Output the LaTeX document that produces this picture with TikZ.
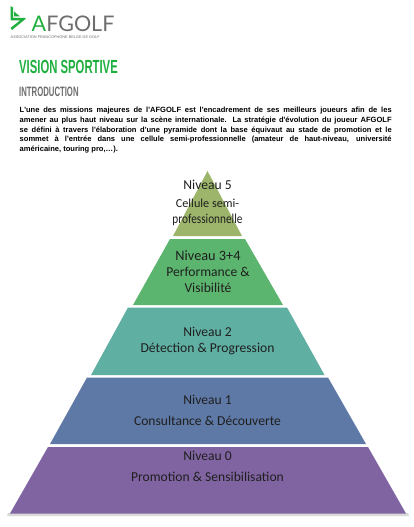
\documentclass[tikz,border=0pt]{standalone}
\usepackage{fontspec}
\setmainfont{Carlito}
\newfontfamily\lib{Liberation Sans}
\newfontfamily\lato{Lato}
\definecolor{lvfive}{HTML}{9DB56B}
\definecolor{lvfour}{HTML}{5CB56E}
\definecolor{lvtwo}{HTML}{60AFA3}
\definecolor{lvone}{HTML}{5F79A6}
\definecolor{lvzero}{HTML}{8064A2}
\definecolor{afgreen}{HTML}{1FAF3F}
\definecolor{afgrey}{HTML}{6E6E6E}
\tikzset{
  tier/.style={draw=none},
  lab/.style={inner sep=0pt,font=\fontsize{13.6pt}{16pt}\selectfont,text=black!88,align=center},
  head/.style={inner sep=0pt,anchor=west,font=\lib\bfseries},
}
\begin{document}
\begin{tikzpicture}[x=1pt,y=-1pt]
\useasboundingbox (0,0) rectangle (413,527);
\fill[white] (0,0) rectangle (413,527);
% logo
\fill[afgreen] (10.5,6) -- (13,7.5) -- (13,18) -- (24,18) -- (26,18.5) -- (12,30) -- (10.5,28) -- (20,20.5) -- (10.5,20.5) -- cycle;
\fill[afgreen] (14,11.5) -- (20,16.5) -- (14,16.5) -- cycle;
\node[inner sep=0pt,anchor=west,font=\lato\fontsize{21.5pt}{22pt}\selectfont] (logo) at (31.5,23.5) {\textcolor{afgreen}{A}\textcolor{afgrey}{FGOLF}};
\node[inner sep=0pt,anchor=west,text=afgrey,font=\lib\fontsize{3.85pt}{4pt}\selectfont] (assoc) at (10.5,37) {ASSOCIATION FRANCOPHONE BELGE DE GOLF};
% headings
\node[head,text=afgreen] (title) at (19,67) {\scalebox{.595}[1]{\fontsize{19pt}{20pt}\selectfont VISION SPORTIVE}};
\node[head,text=afgrey] (intro) at (19,92) {\scalebox{.57}[1]{\fontsize{13.6pt}{14pt}\selectfont INTRODUCTION}};
\node[inner sep=0pt,anchor=north west,text=black] (body) at (19.5,107) {\parbox{372pt}{\lib\fontsize{7.55pt}{9.7pt}\selectfont\textbf{L'une des missions majeures de l'AFGOLF est l'encadrement de ses meilleurs joueurs afin de les\linebreak amener au plus haut niveau sur la scène internationale. La stratégie d'évolution du joueur AFGOLF\linebreak se défini à travers l'élaboration d'une pyramide dont la base équivaut au stade de promotion et le\linebreak sommet à l'entrée dans une cellule semi-professionnelle (amateur de haut-niveau, université\linebreak américaine, touring pro,…).}}};
% shadow
\fill[black!15] (8,513) -- (408,513) -- (409,516) -- (7,516) -- cycle;
% tiers
\fill[tier,lvfive] (207.5,171) -- (242,236) -- (173,236) -- cycle;
\fill[tier,lvfour] (170,239) -- (245,239) -- (283,305) -- (133,305) -- cycle;
\fill[tier,lvtwo] (128,307.5) -- (287,307.5) -- (324.5,375) -- (91,375) -- cycle;
\fill[tier,lvone] (87,377.5) -- (328,377.5) -- (366,444) -- (50,444) -- cycle;
\fill[tier,lvzero] (48,447) -- (368,447) -- (406,513.5) -- (10,513.5) -- cycle;
% labels
\node[lab] (n5) at (207.5,185) {Niveau 5};
\node[lab] (n5b) at (207.5,212.5) {\fontsize{12.2pt}{13pt}\selectfont Cellule semi-\\\scalebox{.83}[1]{professionnelle}};
\node[lab] (n4) at (208,272) {\fontsize{14.3pt}{15.3pt}\selectfont Niveau 3+4\\Performance \&\\Visibilité};
\node[lab] (n2) at (207.5,341) {\fontsize{13.6pt}{15pt}\selectfont Niveau 2\\Détection \& Progression};
\node[lab] (n1a) at (207.5,399.5) {Niveau 1};
\node[lab] (n1b) at (207.5,420.5) {Consultance \& Découverte};
\node[lab] (n0a) at (207.5,455.5) {Niveau 0};
\node[lab] (n0b) at (207.5,476.5) {Promotion \& Sensibilisation};
\end{tikzpicture}
\end{document}
